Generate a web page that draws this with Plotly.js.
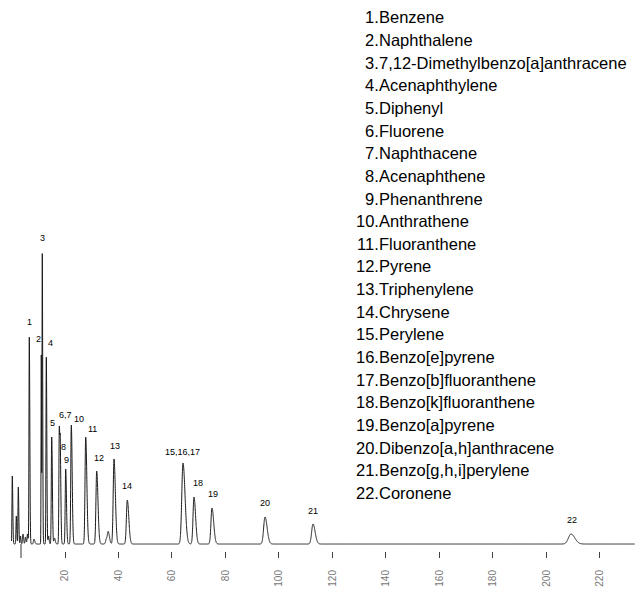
<!DOCTYPE html>
<html>
<head>
<meta charset="utf-8">
<script src="https://cdn.plot.ly/plotly-3.0.1.min.js"></script>
<style>html,body{margin:0;padding:0;background:#fff;}#chart{width:635px;height:590px;}</style>
</head>
<body>
<div id="chart"></div>
<script>
// ---- DATA ----
// retention times (min), peak heights (a.u.), peak left widths (sigma, min), tailing ratios
const peakTimes   = [0.30, 1.79, 2.54, 3.36, 4.30, 5.23, 5.98, 6.65, 8.41, 11.14, 11.51, 13.01, 13.83, 15.03, 16.07, 17.87, 18.24, 20.26, 22.36, 27.74, 31.85, 35.50, 36.19, 38.32, 43.29, 64.11, 68.22, 74.95, 94.77, 112.71, 209.16];
const peakHeights = [68, 28, 57, 8, 10, 7, 10, 207, 5, 190, 291, 187, 8, 107, 6, 115, 86, 75, 119, 107, 73, 5, 11, 85, 44, 81, 47, 36, 27, 20, 10];
const peakSigmas  = [0.12, 0.12, 0.12, 0.12, 0.15, 0.15, 0.15, 0.12, 0.2, 0.09, 0.1, 0.12, 0.15, 0.15, 0.2, 0.15, 0.14, 0.18, 0.2, 0.25, 0.28, 0.3, 0.3, 0.3, 0.33, 0.45, 0.35, 0.38, 0.5, 0.5, 0.95];
const peakTailing = [1.5, 1.5, 1.5, 1.5, 1.5, 1.5, 1.5, 1.6, 1.5, 1.0, 1.5, 1.6, 1.5, 1.6, 1.5, 1.3, 1.6, 1.6, 1.6, 1.7, 1.7, 1.5, 1.5, 1.7, 1.7, 1.7, 1.7, 1.7, 1.6, 1.6, 1.5];
const injectionTime = 3.55;
const injectionDip = -14;

// peak labels and the peak (index into arrays above) each one marks
const labelTexts = ["1", "2", "3", "4", "5", "6,7", "8", "9", "10", "11", "12", "13", "14", "15,16,17", "18", "19", "20", "21", "22"];
const labelPeak  = [7, 9, 10, 11, 13, 15, 16, 17, 18, 19, 20, 23, 24, 25, 26, 27, 28, 29, 30];

// compound list
const compoundNumbers = ["1", "2", "3", "4", "5", "6", "7", "8", "9", "10", "11", "12", "13", "14", "15", "16", "17", "18", "19", "20", "21", "22"];
const compoundNames = ["Benzene", "Naphthalene", "7,12-Dimethylbenzo[a]anthracene", "Acenaphthylene", "Diphenyl", "Fluorene", "Naphthacene", "Acenaphthene", "Phenanthrene", "Anthrathene", "Fluoranthene", "Pyrene", "Triphenylene", "Chrysene", "Perylene", "Benzo[e]pyrene", "Benzo[b]fluoranthene", "Benzo[k]fluoranthene", "Benzo[a]pyrene", "Dibenzo[a,h]anthracene", "Benzo[g,h,i]perylene", "Coronene"];

// x axis ticks
const tickValues = [20, 40, 60, 80, 100, 120, 140, 160, 180, 200, 220];
const tickLabels = ["20", "40", "60", "80", "100", "120", "140", "160", "180", "200", "220"];
const timeStart = 0, timeEnd = 233;

// ---- build the detector signal as the sum of the (tailing) peaks ----
const t = [], s = [];
for (let x = timeStart; x <= timeEnd; x += 0.03) {
  let v = 0;
  for (let i = 0; i < peakTimes.length; i++) {
    const d = x - peakTimes[i];
    const sg = d < 0 ? peakSigmas[i] : peakSigmas[i] * peakTailing[i];
    const z = d / sg;
    if (Math.abs(z) < 12) v += peakHeights[i] * Math.exp(-0.5 * z * z);
  }
  t.push(+x.toFixed(3)); s.push(v);
}

const trace = {
  x: t, y: s, type: "scatter", mode: "lines",
  line: {color: "#1a1a1a", width: 1, simplify: false},
  hoverinfo: "skip", showlegend: false
};

// layout helpers
const W = 635, PH = 558;
const px = v => v / W;
const py = v => (PH - v) / PH;

const labelOffsets = [[0,15],[-3,15],[0,15],[4,14],[1,14],[6,14],[3,11],[1,9],[8,6],[7,8],[2,13],[1,13],[0,14],[0,11],[4,14],[1,14],[0,14],[0,13],[1,14]];

const annotations = [];
labelTexts.forEach((txt, k) => {
  const i = labelPeak[k];
  annotations.push({
    x: peakTimes[i], y: peakHeights[i], xref: "x", yref: "y",
    text: txt, showarrow: false, xanchor: "center", yanchor: "middle",
    xshift: labelOffsets[k][0], yshift: labelOffsets[k][1],
    borderpad: 0, borderwidth: 0,
    font: {family: "Liberation Sans, Arial, sans-serif", size: 9, color: "#000"}
  });
});
compoundNames.forEach((name, k) => {
  const yy = py(17.3 + k * 22.65);
  annotations.push({
    x: px(379), y: yy, xref: "paper", yref: "paper", text: compoundNumbers[k] + ".",
    showarrow: false, xanchor: "right", yanchor: "middle", borderpad: 0, borderwidth: 0,
    font: {family: "Liberation Sans, Arial, sans-serif", size: 16.5, color: "#000"}
  });
  annotations.push({
    x: px(379), y: yy, xref: "paper", yref: "paper", text: name,
    showarrow: false, xanchor: "left", yanchor: "middle", borderpad: 0, borderwidth: 0,
    font: {family: "Liberation Sans, Arial, sans-serif", size: 16.5, color: "#000"}
  });
});

const layout = {
  width: 635, height: 590,
  margin: {l: 0, r: 0, t: 0, b: 32, pad: 0},
  paper_bgcolor: "#fff", plot_bgcolor: "#fff",
  showlegend: false,
  xaxis: {
    range: [-4.3, 233.1], showgrid: false, zeroline: false, showline: false,
    ticks: "inside", ticklen: 6, tickwidth: 1, tickcolor: "#444",
    tickmode: "array", tickvals: tickValues, ticktext: tickLabels,
    tickangle: -90, ticklabelstandoff: 9,
    tickfont: {family: "Liberation Sans, Arial, sans-serif", size: 10, color: "#777"}
  },
  yaxis: {range: [-14, 544], visible: false, showgrid: false, zeroline: false},
  shapes: [{
    type: "line", xref: "x", yref: "y",
    x0: injectionTime, x1: injectionTime, y0: 0, y1: injectionDip,
    line: {color: "#333", width: 1}
  }],
  annotations: annotations
};

Plotly.newPlot("chart", [trace], layout, {displayModeBar: false, staticPlot: true});
</script>
</body>
</html>
